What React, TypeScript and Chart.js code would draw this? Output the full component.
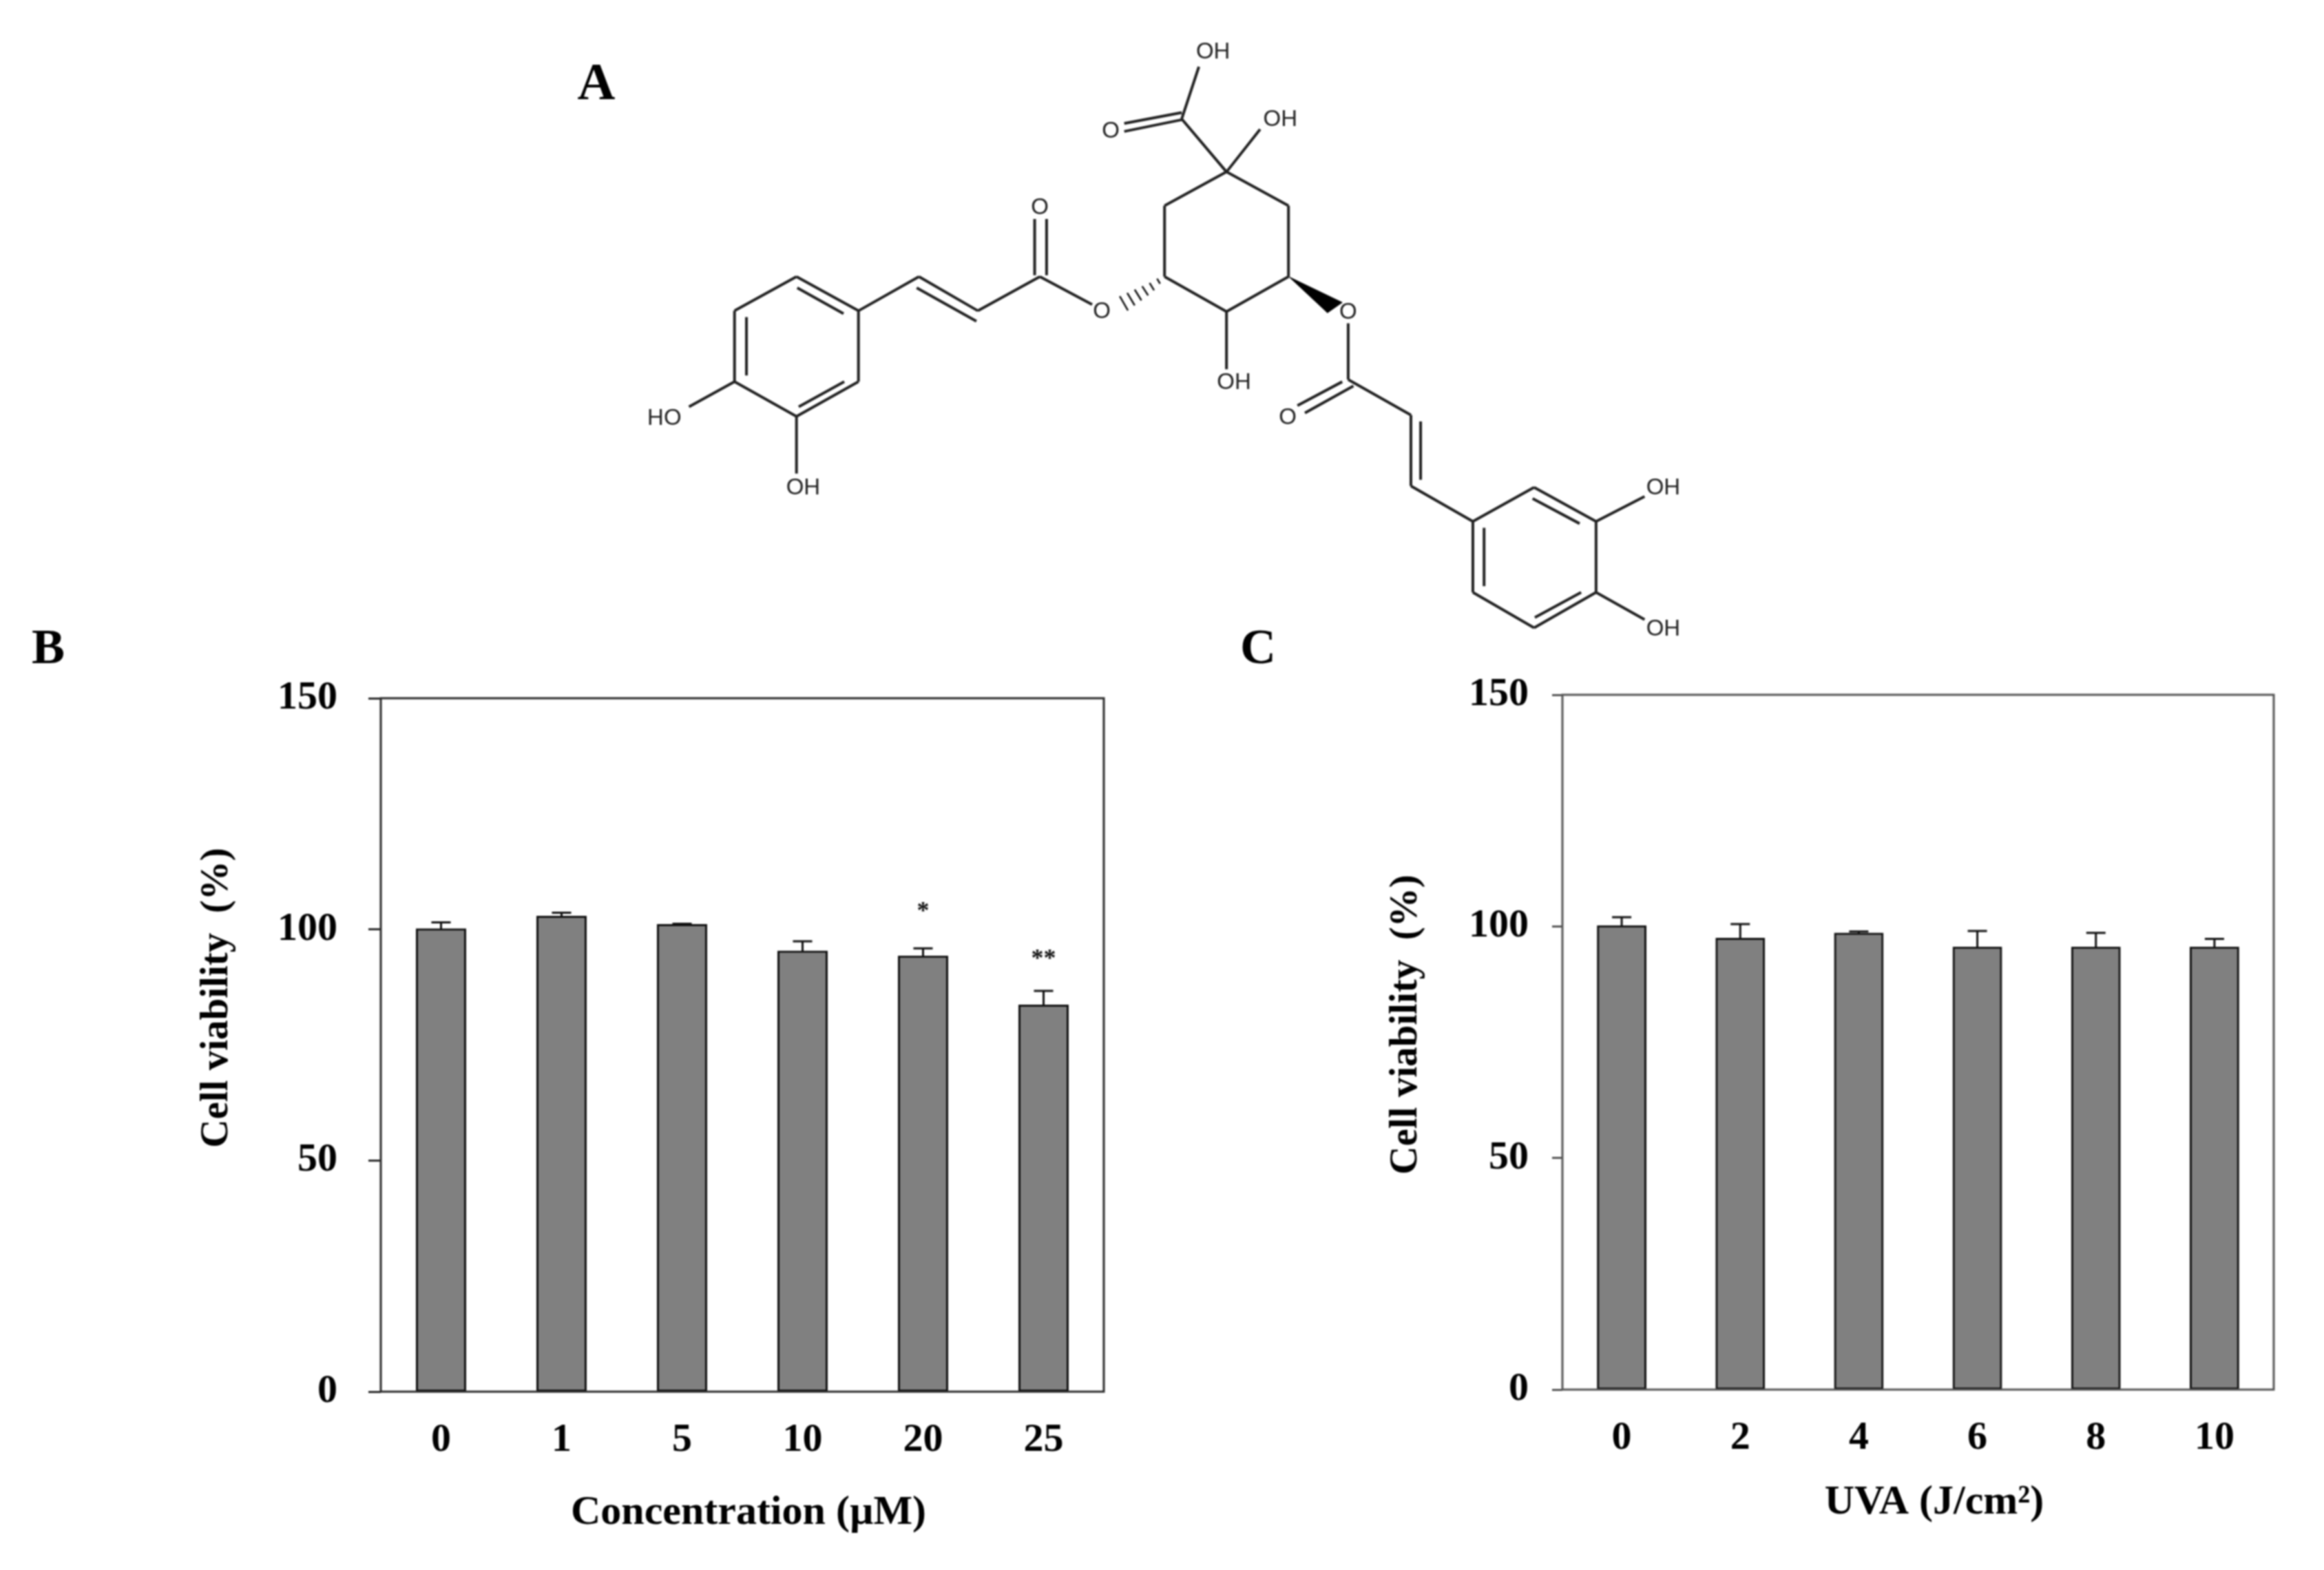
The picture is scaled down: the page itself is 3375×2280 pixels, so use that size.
import React, { useEffect, useRef } from "react";
import { Chart, registerables } from "chart.js";

Chart.register(...registerables);

// Panel B
const concentrationLabels = ["0", "1", "5", "10", "20", "25"];
const concentrationViability = [100, 102.7, 100.9, 95.2, 94.1, 83.5];
const concentrationErrorTop = [101.5, 103.6, 101.2, 97.4, 95.9, 86.7];
const concentrationMarks = [
  { index: 4, text: "*", value: 104.7 },
  { index: 5, text: "**", value: 94.5 },
];

// Panel C
const uvaLabels = ["0", "2", "4", "6", "8", "10"];
const uvaViability = [100, 97.3, 98.4, 95.4, 95.4, 95.4];
const uvaErrorTop = [102, 100.5, 98.9, 99, 98.6, 97.3];

const yTicks = [0, 50, 100, 150];

// Panel A: structure drawing, in the units of the molecule scale
const bondSegments = [
  [845, 285, 868, 160], [845, 270, 768, 296], [845, 287, 768, 315], [845, 285, 905, 412], [905, 412, 950, 310],
  [905, 412, 988, 493], [988, 493, 988, 663], [988, 663, 905, 747], [905, 747, 822, 663], [822, 663, 822, 493], [822, 493, 905, 412],
  [905, 747, 905, 885],
  [725, 730, 655, 663], [648, 525, 648, 660], [664, 525, 664, 660],
  [655, 663, 572, 745], [572, 745, 493, 663], [570, 770, 490, 690], [493, 663, 412, 745],
  [412, 745, 329, 663], [329, 663, 246, 745], [246, 745, 246, 915], [246, 915, 329, 998], [329, 998, 412, 915], [412, 915, 412, 745],
  [330, 690, 392, 752], [262, 760, 262, 900], [332, 975, 393, 915],
  [246, 915, 185, 975], [329, 998, 329, 1135],
  [1068, 775, 1068, 910], [1060, 915, 1000, 972], [1075, 925, 1010, 990], [1068, 910, 1152, 995],
  [1152, 995, 1152, 1165], [1165, 1010, 1165, 1150], [1152, 1165, 1235, 1250],
  [1235, 1250, 1317, 1168], [1317, 1168, 1400, 1250], [1400, 1250, 1400, 1420], [1400, 1420, 1317, 1505], [1317, 1505, 1235, 1420], [1235, 1420, 1235, 1250],
  [1315, 1195, 1378, 1255], [1250, 1265, 1250, 1405], [1318, 1480, 1380, 1420],
  [1400, 1250, 1465, 1190], [1400, 1420, 1465, 1485],
];
const hashSegments = [
  [812, 668, 816, 680], [802, 678, 808, 696], [792, 686, 800, 708],
  [782, 694, 791, 720], [772, 702, 782, 732], [762, 710, 773, 744],
];
const wedgePoints = [[988, 663], [1060, 725], [1040, 750]];
const atomLabels: [string, number, number][] = [
  ["OH", 887, 125], ["O", 750, 315], ["OH", 977, 287], ["O", 655, 498], ["O", 738, 748], ["OH", 915, 918],
  ["HO", 152, 1003], ["OH", 338, 1170], ["O", 1068, 750], ["O", 987, 1002], ["OH", 1490, 1170], ["OH", 1490, 1508],
];

const SERIF = '"Liberation Serif", "Times New Roman", serif';
const INK = "#000";

function segmentsToPoints(segments: number[][]) {
  const points: any[] = [];
  segments.forEach(([x1, y1, x2, y2]) => {
    points.push({ x: x1, y: y1 }, { x: x2, y: y2 }, { x: NaN, y: NaN });
  });
  return points;
}

function useMolecule(ref: React.RefObject<HTMLCanvasElement | null>) {
  useEffect(() => {
    if (!ref.current) return;
    const labelPlugin = {
      id: "atomLabels",
      afterDatasetsDraw(chart: any) {
        const { ctx, scales } = chart;
        ctx.save();
        ctx.font = '33px "Liberation Sans", Arial, sans-serif';
        ctx.textAlign = "center";
        ctx.textBaseline = "middle";
        ctx.fillStyle = "#222";
        atomLabels.forEach(([text, x, y]) => {
          ctx.fillText(text, scales.x.getPixelForValue(x), scales.y.getPixelForValue(y));
        });
        ctx.font = `bold 76px ${SERIF}`;
        ctx.textAlign = "center";
        ctx.fillStyle = "#000";
        ctx.fillText("A", 66, 124);
        ctx.restore();
      },
    };
    const chart = new Chart(ref.current, {
      type: "scatter",
      data: {
        datasets: [
          { data: segmentsToPoints(bondSegments), showLine: true, spanGaps: false, borderColor: "#222", borderWidth: 4, pointRadius: 0 },
          { data: segmentsToPoints(hashSegments), showLine: true, spanGaps: false, borderColor: "#111", borderWidth: 2.5, pointRadius: 0 },
          {
            data: wedgePoints.map(([x, y]) => ({ x, y })),
            showLine: true,
            fill: "shape",
            backgroundColor: "#000",
            borderColor: "#000",
            borderWidth: 1,
            pointRadius: 0,
          },
        ],
      } as any,
      options: {
        responsive: false,
        animation: false,
        layout: { padding: 0 },
        plugins: { legend: { display: false }, tooltip: { enabled: false } },
        scales: {
          x: { type: "linear", display: false, min: 0, max: 1568 },
          y: { type: "linear", display: false, min: 0, max: 1568, reverse: true },
        },
      },
      plugins: [labelPlugin],
    } as any);
    return () => chart.destroy();
  }, [ref]);
}

type PanelSpec = {
  labels: string[];
  values: number[];
  errorTop: number[];
  marks: { index: number; text: string; value: number }[];
  letter: string;
  letterAt: [number, number];
  yTitle: string;
  yTitleAt: [number, number];
  xTitle: string;
  xTitleAt: [number, number];
  axisLeft: number;
  padTop: number;
  padRight: number;
  xHeight: number;
  tickLength: number;
  tickPadding: number;
  frame: string;
};

function usePanel(ref: React.RefObject<HTMLCanvasElement | null>, spec: PanelSpec) {
  useEffect(() => {
    if (!ref.current) return;
    const overlay = {
      id: "panelOverlay",
      afterDatasetsDraw(chart: any) {
        const { ctx, scales, chartArea } = chart;
        ctx.save();
        // frame
        ctx.strokeStyle = spec.frame;
        ctx.lineWidth = 3;
        ctx.strokeRect(chartArea.left, chartArea.top, chartArea.right - chartArea.left, chartArea.bottom - chartArea.top);
        // error bars
        ctx.strokeStyle = "#111";
        ctx.lineWidth = 3;
        spec.values.forEach((v, i) => {
          const x = scales.x.getPixelForValue(i);
          const y0 = scales.y.getPixelForValue(v);
          const y1 = scales.y.getPixelForValue(spec.errorTop[i]);
          ctx.beginPath();
          ctx.moveTo(x, y0);
          ctx.lineTo(x, y1);
          ctx.moveTo(x - 14, y1);
          ctx.lineTo(x + 14, y1);
          ctx.stroke();
        });
        // significance marks
        ctx.fillStyle = "#111";
        ctx.font = `bold 36px ${SERIF}`;
        ctx.textAlign = "center";
        ctx.textBaseline = "middle";
        spec.marks.forEach((m) => {
          ctx.fillText(m.text, scales.x.getPixelForValue(m.index), scales.y.getPixelForValue(m.value) + 7);
        });
        // titles and panel letter
        ctx.fillStyle = INK;
        ctx.font = `bold 60px ${SERIF}`;
        ctx.fillText(spec.xTitle, spec.xTitleAt[0], spec.xTitleAt[1]);
        ctx.save();
        ctx.translate(spec.yTitleAt[0], spec.yTitleAt[1]);
        ctx.rotate(-Math.PI / 2);
        ctx.font = `bold 57px ${SERIF}`;
        ctx.fillText(spec.yTitle, 0, 0);
        ctx.restore();
        ctx.font = `bold 72px ${SERIF}`;
        ctx.fillText(spec.letter, spec.letterAt[0], spec.letterAt[1]);
        ctx.restore();
      },
    };
    const chart = new Chart(ref.current, {
      type: "bar",
      data: {
        labels: spec.labels,
        datasets: [
          {
            data: spec.values,
            backgroundColor: "#808080",
            borderColor: "#111",
            borderWidth: 3,
            borderSkipped: false,
            inflateAmount: 1.5,
            barPercentage: 0.4,
            categoryPercentage: 1,
          },
        ],
      },
      options: {
        responsive: false,
        animation: false,
        layout: { padding: { top: spec.padTop, right: spec.padRight, left: 0, bottom: 0 } },
        plugins: { legend: { display: false }, tooltip: { enabled: false } },
        scales: {
          x: {
            grid: { display: false, drawTicks: false },
            border: { display: false },
            ticks: { color: INK, font: { family: SERIF, size: 58, weight: "bold" }, padding: 36, maxRotation: 0 },
            afterFit(scale: any) {
              scale.height = spec.xHeight;
            },
          },
          y: {
            min: 0,
            max: 150,
            afterBuildTicks(scale: any) {
              scale.ticks = yTicks.map((value) => ({ value }));
            },
            grid: { drawOnChartArea: false, drawTicks: true, tickLength: spec.tickLength, color: spec.frame, lineWidth: 3 },
            border: { display: false },
            ticks: { color: INK, font: { family: SERIF, size: 58, weight: "bold" }, padding: spec.tickPadding },
            afterFit(scale: any) {
              scale.width = spec.axisLeft;
            },
          },
        },
      } as any,
      plugins: [overlay],
    });
    return () => chart.destroy();
  }, [ref, spec]);
}

const panelB: PanelSpec = {
  labels: concentrationLabels,
  values: concentrationViability,
  errorTop: concentrationErrorTop,
  marks: concentrationMarks,
  letter: "B",
  letterAt: [70, 44],
  yTitle: "Cell viability  (%)",
  yTitleAt: [315, 549],
  xTitle: "Concentration (µM)",
  xTitleAt: [1087, 1297],
  axisLeft: 553,
  padTop: 114,
  padRight: 77,
  xHeight: 259,
  tickLength: 18,
  tickPadding: 45,
  frame: "#2a2a2a",
};

const panelC: PanelSpec = {
  labels: uvaLabels,
  values: uvaViability,
  errorTop: uvaErrorTop,
  marks: [],
  letter: "C",
  letterAt: [127, 44],
  yTitle: "Cell viability  (%)",
  yTitleAt: [342, 588],
  xTitle: "UVA (J/cm²)",
  xTitleAt: [1109, 1282],
  axisLeft: 569,
  padTop: 109,
  padRight: 73,
  xHeight: 262,
  tickLength: 15,
  tickPadding: 34,
  frame: "#555555",
};

const canvasStyle = (left: number, top: number): React.CSSProperties => ({
  position: "absolute",
  left,
  top,
  display: "block",
  filter: "blur(0.9px)",
});

export default function App() {
  const moleculeRef = useRef<HTMLCanvasElement | null>(null);
  const bRef = useRef<HTMLCanvasElement | null>(null);
  const cRef = useRef<HTMLCanvasElement | null>(null);
  useMolecule(moleculeRef);
  usePanel(bRef, panelB);
  usePanel(cRef, panelC);
  return (
    <div style={{ position: "absolute", left: 0, top: 0, width: 3375, height: 2280, background: "#fff", overflow: "hidden" }}>
      <canvas ref={moleculeRef} width={1700} height={950} style={canvasStyle(800, 0)} />
      <canvas ref={bRef} width={1680} height={1380} style={canvasStyle(0, 900)} />
      <canvas ref={cRef} width={1675} height={1380} style={canvasStyle(1700, 900)} />
    </div>
  );
}
